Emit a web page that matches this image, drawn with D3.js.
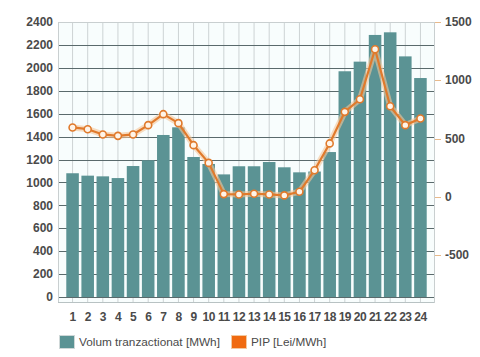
<!DOCTYPE html>
<html><head><meta charset="utf-8">
<script src="https://cdn.jsdelivr.net/npm/d3@7/dist/d3.min.js"></script>
<style>body{margin:0;background:#fff;}svg{display:block;font-family:"Liberation Sans",Arial,sans-serif;}</style>
</head><body>
<svg id="c" width="480" height="357"></svg>
<script>
const hours = ["1","2","3","4","5","6","7","8","9","10","11","12","13","14","15","16","17","18","19","20","21","22","23","24"];
const volume = [1080,1059,1053,1038,1143,1193,1414,1481,1222,1161,1070,1141,1141,1178,1132,1088,1095,1265,1970,2054,2287,2310,2100,1911];
const pip = [595,580,535,523,535,615,709,632,443,291,23,20,26,20,12,43,228,458,729,837,1266,777,615,672];
const leftTicks = [0,200,400,600,800,1000,1200,1400,1600,1800,2000,2200,2400];
const rightTicks = [-500,0,500,1000,1500];
const legendLabels = ["Volum tranzactionat [MWh]","PIP [Lei/MWh]"];

const svg = d3.select("#c");
const L = 58, R = 434, T = 22, B = 297;
const x = d3.scaleBand().domain(hours).range([65, 428]).paddingInner(0.17).paddingOuter(0.085);
const yL = d3.scaleLinear().domain([0, 2400]).range([B, T]);
const yR = d3.scaleLinear().domain([-860, 1500]).range([B, T]);
const cx = d => x(d) + x.bandwidth()/2;

// background
svg.append("rect").attr("x", L).attr("y", T).attr("width", R-L).attr("height", 303-T).attr("fill", "#f8fdfd");

// vertical grid
svg.append("g").selectAll("line").data(hours).join("line")
  .attr("x1", d => cx(d)).attr("x2", d => cx(d)).attr("y1", T).attr("y2", 303)
  .attr("stroke", "#cdd3d4").attr("stroke-width", 1);

// horizontal grid
svg.append("g").selectAll("line").data(leftTicks).join("line")
  .attr("x1", L).attr("x2", R).attr("y1", d => Math.round(yL(d))+0.5).attr("y2", d => Math.round(yL(d))+0.5)
  .attr("stroke", d => d === 2400 ? "#c9cfd0" : "#5a6a6c").attr("stroke-width", 1);

// frame
svg.append("line").attr("x1", L+0.5).attr("x2", L+0.5).attr("y1", T).attr("y2", 303).attr("stroke", "#c9cfd0");
svg.append("line").attr("x1", R+0.5).attr("x2", R+0.5).attr("y1", T).attr("y2", 303).attr("stroke", "#c9cfd0");
svg.append("line").attr("x1", L).attr("x2", R).attr("y1", 302.5).attr("y2", 302.5).attr("stroke", "#b8c2c3");

// bars
svg.append("g").selectAll("rect").data(volume).join("rect")
  .attr("x", (d,i) => x(hours[i])).attr("width", x.bandwidth())
  .attr("y", d => yL(d)).attr("height", d => yL(0) - yL(d))
  .attr("fill", "#5b9394");

// line with halo
const line = d3.line().x((d,i) => cx(hours[i])).y(d => yR(d));
svg.append("path").datum(pip).attr("d", line).attr("fill", "none")
  .attr("stroke", "#f5c79a").attr("stroke-width", 6).attr("stroke-opacity", 0.6).attr("stroke-linejoin", "round");
svg.append("path").datum(pip).attr("d", line).attr("fill", "none")
  .attr("stroke", "#e07a2c").attr("stroke-width", 2.2).attr("stroke-linejoin", "round");
svg.append("g").selectAll("circle").data(pip).join("circle")
  .attr("cx", (d,i) => cx(hours[i])).attr("cy", d => yR(d)).attr("r", 3.5)
  .attr("fill", "#fff4e8").attr("stroke", "#e07a2c").attr("stroke-width", 1.6);

// left axis labels
svg.append("g").selectAll("text").data(leftTicks).join("text")
  .attr("x", 53).attr("y", d => yL(d)).attr("dy", "0.35em").attr("text-anchor", "end")
  .attr("font-size", 12).attr("font-weight", "bold").attr("fill", "#4a4a4a").text(d => d);

// right axis
const ra = svg.append("g");
ra.selectAll("line").data(rightTicks).join("line")
  .attr("x1", 435).attr("x2", 441).attr("y1", d => Math.round(yR(d))+0.5).attr("y2", d => Math.round(yR(d))+0.5)
  .attr("stroke", "#e8b98a");
ra.selectAll("text").data(rightTicks).join("text")
  .attr("x", 445).attr("y", d => yR(d)).attr("dy", "0.35em").attr("text-anchor", "start")
  .attr("font-size", 12).attr("font-weight", "bold").attr("fill", "#4a4a4a").text(d => d);

// x labels
svg.append("g").selectAll("text").data(hours).join("text")
  .attr("x", d => cx(d)).attr("y", 317).attr("dy", "0.35em").attr("text-anchor", "middle")
  .attr("font-size", 12).attr("font-weight", "bold").attr("fill", "#4a4a4a").attr("letter-spacing", -0.6).text(d => d);

// legend
const lg = svg.append("g");
lg.append("rect").attr("x", 59.5).attr("y", 335.5).attr("width", 15).attr("height", 13).attr("fill", "#5b9394").attr("stroke", "#cfd8d8");
lg.append("text").attr("x", 79).attr("y", 342).attr("dy", "0.35em").attr("font-size", 11.8).attr("fill", "#4a4a4a").text(legendLabels[0]);
lg.append("rect").attr("x", 231.5).attr("y", 335.5).attr("width", 15).attr("height", 13).attr("fill", "#f06a10").attr("stroke", "#f3c9a0");
lg.append("text").attr("x", 251).attr("y", 342).attr("dy", "0.35em").attr("font-size", 11.8).attr("fill", "#4a4a4a").text(legendLabels[1]);
</script>
</body></html>
